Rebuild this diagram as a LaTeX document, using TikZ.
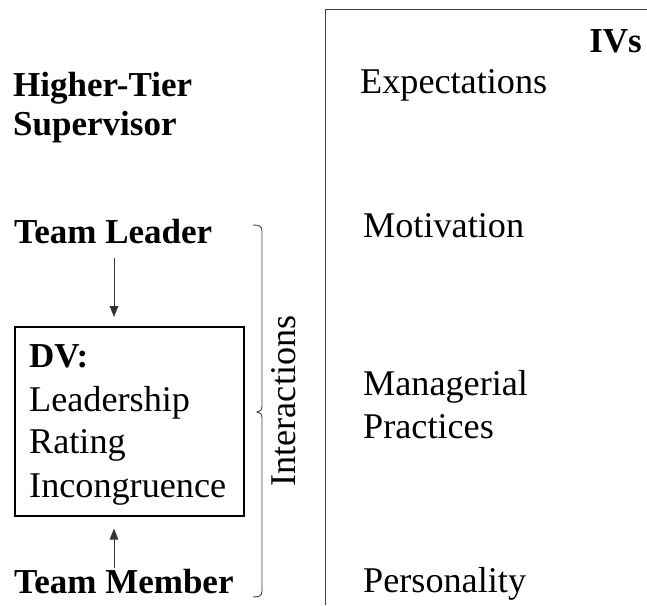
\documentclass[tikz,border=0pt]{standalone}
\usepackage{fontspec}
\setmainfont{Liberation Serif}
\usetikzlibrary{arrows.meta}
\begin{document}
\begin{tikzpicture}[x=1pt,y=-1pt,
  lbl/.style={anchor=base west,inner sep=0pt,font=\fontsize{36.2}{43}\selectfont},
  blbl/.style={anchor=base west,inner sep=0pt,font=\fontsize{35}{43}\selectfont\bfseries},
  arr/.style={draw=black!80,line width=1pt,-{Triangle[length=11pt,width=8.5pt]}},
  frameline/.style={draw=black!75,line width=1pt},
  dvbox/.style={draw=black,line width=1.5pt,anchor=north west,inner sep=0pt,minimum width=229pt,minimum height=189pt}]
\useasboundingbox (0,0) rectangle (647,605);
% right frame
\coordinate (fb) at (325,605);
\coordinate (ft) at (325,9);
\coordinate (fr) at (647,9);
\draw[frameline] (fb) -- (ft) -- (fr);
% right labels
\node[blbl,anchor=base east] (ivs) at (642,52) {IVs};
\node[lbl] (exp) at (360,93) {Expectations};
\node[lbl] (mot) at (363,237) {Motivation};
\node[lbl] (man) at (363,395) {Managerial};
\node[lbl] (pra) at (363,438) {Practices};
\node[lbl] (per) at (363,592) {Personality};
% left labels
\node[blbl] (ht1) at (13,96) {Higher-Tier};
\node[blbl] (ht2) at (13,135) {Supervisor};
\node[blbl] (tl) at (14,243) {Team Leader};
\node[blbl] (tm) at (14,593) {Team Member};
% DV box
\node[dvbox] (box) at (14,326) {};
\node[blbl] (dv) at (29,367) {DV:};
\node[lbl] (dv1) at (29,411) {Leadership};
\node[lbl] (dv2) at (29,453) {Rating};
\node[lbl] (dv3) at (29,497) {Incongruence};
% arrows
\coordinate (ax) at (114,0);
\draw[arr] ([yshift=-15pt]tl.base -| ax) -- ([yshift=9pt]box.north -| ax);
\draw[arr] ([yshift=25pt]tm.base -| ax) -- ([yshift=-12pt]box.south -| ax);
% brace
\coordinate (b1) at (253,225);
\coordinate (bm) at (257,412);
\coordinate (b2) at (253,597);
\draw[frameline,line width=0.9pt] (b1) .. controls (259,225) and (262,226) .. (262,231)
  -- (262,406) .. controls (262,410) and (260,412) .. (bm)
  .. controls (260,412) and (262,414) .. (262,418)
  -- (262,591) .. controls (262,596) and (259,597) .. (b2);
\node[inner sep=0pt,anchor=base,rotate=90,font=\fontsize{36.2}{43}\selectfont] (int) at (295,401) {Interactions};
\end{tikzpicture}
\end{document}
